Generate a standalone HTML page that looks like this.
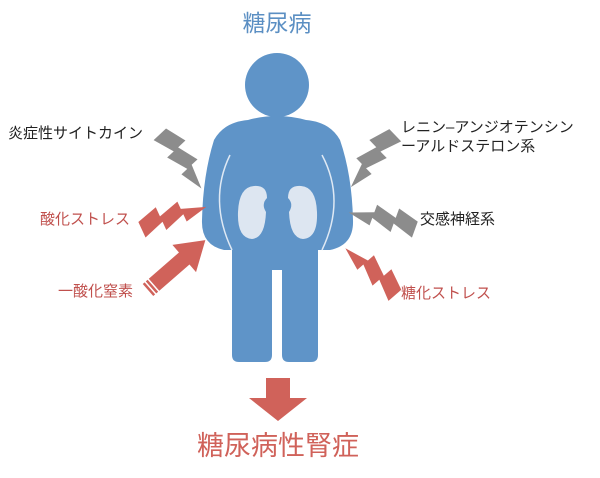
<!DOCTYPE html>
<html><head><meta charset="utf-8"><style>
html,body{margin:0;padding:0;background:#fff;}
svg text{font-family:"Liberation Sans","Noto Sans CJK JP",sans-serif;}
</style></head><body>
<svg width="600" height="473" viewBox="0 0 600 473" xmlns="http://www.w3.org/2000/svg">
<defs>
<polygon id="bolt" points="0,-11 22,-17 22,-7 44,-13 44,-5 68,4 44,9 44,1 22,8 22,-1 0,6"/>
</defs>
<text x="277" y="31" font-size="23" fill="#5b8fc3" text-anchor="middle">糖尿病</text>
<!-- figure -->
<circle cx="277" cy="85" r="32" fill="#5f94c8"/>
<path d="M248,120 Q277,112 306,120 Q330,122 340,140 Q352,175 353,220 Q354,245 330,250 L318,250 L318,355 Q318,362 311,362 L289,362 Q282,362 282,355 L282,270 L272,270 L272,355 Q272,362 265,362 L239,362 Q232,362 232,355 L232,250 L224,250 Q201,245 202,220 Q203,175 214,140 Q224,122 248,120 Z" fill="#5f94c8"/>
<path d="M230,155 Q208,200 232,250" fill="none" stroke="#dfe9f4" stroke-width="1.5"/>
<path d="M322,155 Q346,200 322,250" fill="none" stroke="#dfe9f4" stroke-width="1.5"/>
<path d="M254,186 Q267,185 267,198 Q261,204 266,212 Q265,238 252,239 Q237,238 238,212 Q239,187 254,186 Z" fill="#dde6f1"/>
<path d="M301,186 Q288,185 288,198 Q294,204 289,212 Q290,238 303,239 Q318,238 317,212 Q316,187 301,186 Z" fill="#dde6f1"/>
<!-- bolts -->
<use href="#bolt" fill="#8c8c8c" transform="translate(158,136) rotate(47)"/>
<use href="#bolt" fill="#d0625a" transform="translate(143,232) rotate(-25)"/>
<use href="#bolt" fill="#8c8c8c" transform="translate(397,137) rotate(136) scale(1,-1)"/>
<use href="#bolt" fill="#8c8c8c" transform="translate(414,232) rotate(200) scale(1,-1)"/>
<use href="#bolt" fill="#d0625a" transform="translate(393,297) rotate(229) scale(1,-1)"/>
<!-- red arrow -->
<g transform="translate(148,290) rotate(-41)" fill="#d0625a">
<polygon points="8,-8 48,-8 48,-18 76,0 48,18 48,8 8,8"/>
<rect x="0" y="-8" width="2.5" height="16"/>
<rect x="4" y="-8" width="2.5" height="16"/>
</g>
<!-- down arrow -->
<polygon points="266,378 290,378 290,398 307,398 278,421 249,398 266,398" fill="#d0625a"/>
<text x="278" y="455" font-size="27" fill="#d0625a" text-anchor="middle">糖尿病性腎症</text>
<!-- labels -->
<g font-size="15">
<text x="8" y="138" fill="#222">炎症性サイトカイン</text>
<text x="40" y="224" fill="#c0504d">酸化ストレス</text>
<text x="58" y="296" fill="#c0504d">一酸化窒素</text>
<text x="401" y="132" fill="#222">レニン–アンジオテンシン</text>
<text x="401" y="151" fill="#222">ーアルドステロン系</text>
<text x="420" y="224" fill="#222">交感神経系</text>
<text x="401" y="298" fill="#c0504d">糖化ストレス</text>
</g>
</svg>
</body></html>
